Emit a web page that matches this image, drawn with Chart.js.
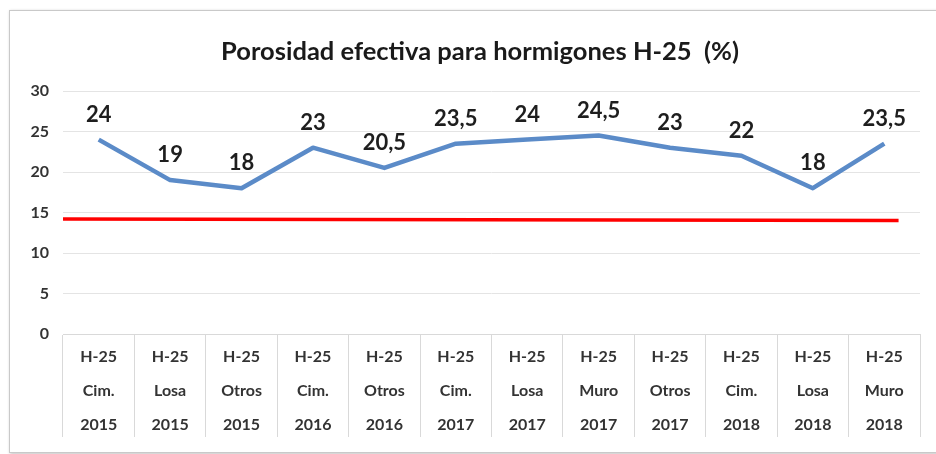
<!DOCTYPE html>
<html>
<head>
<meta charset="utf-8">
<script src="https://cdn.jsdelivr.net/npm/chart.js@4.4.1/dist/chart.umd.min.js"></script>
<style>
  html, body { margin: 0; padding: 0; background: #fff; overflow: hidden; }
  #frame {
    position: absolute; left: 9px; top: 10px; width: 960px; height: 441px;
    border: 1px solid #c9c9c9; box-shadow: 1px 1px 3px rgba(0,0,0,0.25);
  }
  #chart1 { position: absolute; left: 0; top: 0; }
</style>
</head>
<body>
<div id="frame"></div>
<canvas id="chart1" width="960" height="454"></canvas>
<script>
// categories
const hormigon = 'H-25';
const elemento = ['Cim.', 'Losa', 'Otros', 'Cim.', 'Otros', 'Cim.', 'Losa', 'Muro', 'Otros', 'Cim.', 'Losa', 'Muro'];
const anio = ['2015', '2015', '2015', '2016', '2016', '2017', '2017', '2017', '2017', '2018', '2018', '2018'];

// series
const porosidad = [24, 19, 18, 23, 20.5, 23.5, 24, 24.5, 23, 22, 18, 23.5];

// red limit line (x as fraction of the plot width)
const limiteX = [0, 0.975];
const limiteY = [14.2, 14.0];

// y axis ticks
const yMin = 0;
const yMax = 30;
const yStep = 5;

const titulo = 'Porosidad efectiva para hormigones H-25  (%)';

const labels = elemento.map((e, i) => [hormigon, e, anio[i]]);
const limitePoints = limiteX.map((x, i) => ({ x: x, y: limiteY[i] }));

const FONT = 'Lato, "Open Sans", sans-serif';

// value labels above the blue line + chart title
const valueLabels = {
    id: 'valueLabels',
    afterDatasetsDraw(chart) {
        const ctx = chart.ctx;
        const meta = chart.getDatasetMeta(0);
        ctx.save();
        ctx.font = 'bold 22px ' + FONT;
        ctx.fillStyle = '#1e1e1e';
        ctx.textAlign = 'center';
        ctx.textBaseline = 'middle';
        meta.data.forEach((pt, i) => {
            ctx.fillText(String(porosidad[i]).replace('.', ','), pt.x, pt.y - 25);
        });
        // title sits a bit left of the plot centre, like the original
        ctx.font = 'bold 25.5px ' + FONT;
        ctx.fillStyle = '#1a1a1a';
        ctx.fillText(titulo, 480, 52);
        ctx.restore();
    }
};

const ctx1 = document.getElementById('chart1').getContext('2d');

const chart = new Chart(ctx1, {
    type: 'line',
    data: {
        labels: labels,
        datasets: [{
            label: 'Porosidad',
            data: porosidad,
            borderColor: '#5b8bc8',
            borderWidth: 4.5,
            pointRadius: 0,
            tension: 0,
            borderJoinStyle: 'round',
            xAxisID: 'x'
        }, {
            label: 'Limite',
            data: limitePoints,
            borderColor: '#ff0000',
            borderWidth: 3.5,
            pointRadius: 0,
            xAxisID: 'xr'
        }]
    },
    options: {
        responsive: false,
        animation: false,
        devicePixelRatio: 1,
        layout: { padding: { left: 0, right: 40, top: 91, bottom: 0 } },
        plugins: {
            legend: { display: false },
            tooltip: { enabled: false },
            title: { display: false }
        },
        scales: {
            x: {
                type: 'category',
                offset: true,
                grid: {
                    offset: true,
                    drawOnChartArea: false,
                    drawTicks: true,
                    tickLength: 103,
                    color: '#d9d9d9'
                },
                border: { display: true, color: '#d9d9d9' },
                ticks: {
                    padding: -97,
                    color: '#333',
                    maxRotation: 0,
                    autoSkip: false,
                    font: { family: FONT, size: 16, weight: 'bold', lineHeight: 34 / 16 }
                },
                afterFit(scale) { scale.height = 120; }
            },
            xr: {
                type: 'linear',
                display: false,
                min: 0,
                max: 1
            },
            y: {
                min: yMin,
                max: yMax,
                ticks: {
                    stepSize: yStep,
                    padding: 14,
                    color: '#333',
                    font: { family: FONT, size: 16, weight: 'bold' }
                },
                grid: { color: '#e4e4e4', drawTicks: false },
                border: { display: false },
                afterFit(scale) { scale.width = 63; }
            }
        }
    },
    plugins: [valueLabels]
});
</script>
</body>
</html>
